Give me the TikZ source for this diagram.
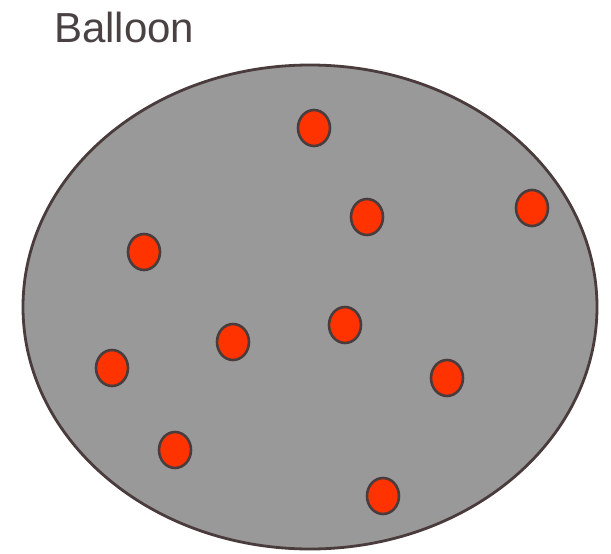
\documentclass[tikz,border=0pt]{standalone}
\usepackage{fontspec}
\setmainfont{Liberation Sans}
\usetikzlibrary{shapes.geometric}
\definecolor{balloongray}{HTML}{999999}
\definecolor{edgebrown}{HTML}{4A3C3C}
\definecolor{particlered}{HTML}{FF3300}
\definecolor{labelgray}{HTML}{4A4242}

\begin{document}
\begin{tikzpicture}[
  x=1pt, y=-1pt,
  balloon/.style={draw=edgebrown, fill=balloongray, line width=2.8pt},
  particle/.style={draw=edgebrown, fill=particlered, line width=2.6pt,
    ellipse, minimum width=32pt, minimum height=36pt, inner sep=0pt},
  title/.style={font=\fontsize{42}{50}\selectfont, text=labelgray, anchor=base west, inner sep=0pt},
]
\useasboundingbox (0,0) rectangle (611,554);

% ---- balloon ----
\draw[balloon] (310,307) ellipse [x radius=287, y radius=242];
\node[title] (lbl) at (54,42) {Balloon};

% ---- gas particles ----
\foreach \px/\py [count=\i] in {314/128, 367/217, 532/208, 144/252, 345/325,
    233/342, 112/368, 447/378, 175/450, 383/496}
  \node[particle] (p\i) at (\px,\py) {};

\end{tikzpicture}
\end{document}
